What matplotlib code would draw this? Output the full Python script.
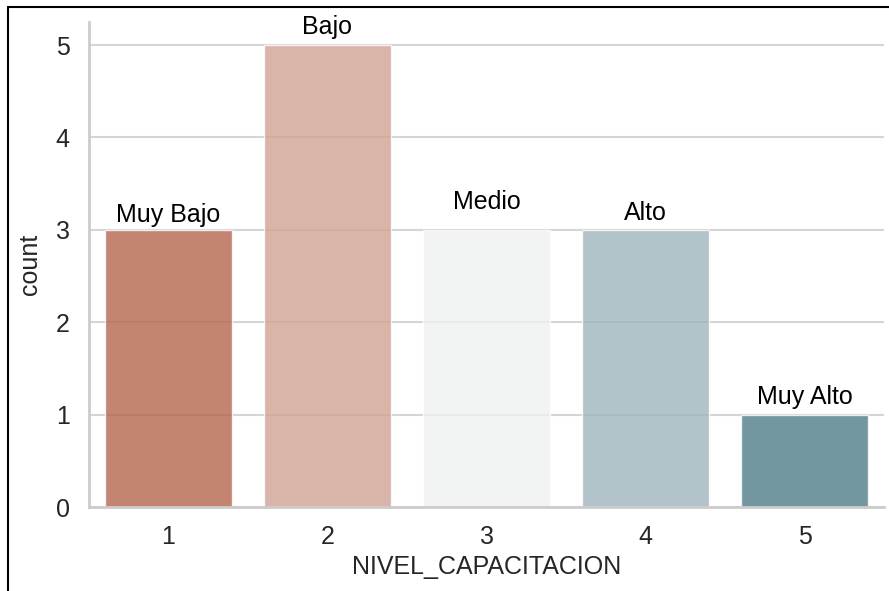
import matplotlib
matplotlib.use("Agg")
import matplotlib.pyplot as plt
import seaborn as sns
from matplotlib.lines import Line2D

# data
niveles = ["1", "2", "3", "4", "5"]
counts = [3, 5, 3, 3, 1]
etiquetas = ["Muy Bajo", "Bajo", "Medio", "Alto", "Muy Alto"]
# where each label sits above its bar (in count units)
label_offsets = [0.16, 0.2, 0.3, 0.18, 0.19]

sns.set_theme(style="whitegrid")
plt.rcParams["font.family"] = ["Liberation Sans", "DejaVu Sans"]

colores = ["#b5664f", "#d0a292", "#eff1f1", "#9fb5bd", "#4f7d89"]

fig = plt.figure(figsize=(8.89, 5.91), dpi=100)
ax = fig.add_axes([0.1001, 0.1421, 0.8943, 0.8207])

ax.bar(range(len(niveles)), counts, width=0.8, color=colores, alpha=0.8, zorder=2)
ax.set_xlim(-0.5, 4.5)
ax.set_ylim(0, 5.25)
ax.set_xticks(range(len(niveles)))
ax.set_xticklabels(niveles)
ax.set_yticks(range(0, 6))
ax.tick_params(labelsize=18, colors="#262626", length=0)
ax.tick_params(axis="x", pad=13)
ax.tick_params(axis="y", pad=14)
ax.grid(axis="x", visible=False)
ax.grid(axis="y", color="#d5d5d5", linewidth=1.5)
ax.set_axisbelow(True)
for s in ["top", "right"]:
    ax.spines[s].set_visible(False)
for s in ["left", "bottom"]:
    ax.spines[s].set_color("#cccccc")
    ax.spines[s].set_linewidth(2)
ax.set_xlabel("NIVEL_CAPACITACION", fontsize=18, color="#262626", labelpad=4)
ax.set_ylabel("count", fontsize=18, color="#262626", labelpad=10)

# category labels above the bars
for i, (c, t) in enumerate(zip(counts, etiquetas)):
    ax.text(i, c + label_offsets[i], t, ha="center", va="center",
            fontsize=18, color="black")

# screenshot frame
fig.add_artist(Line2D([0.009, 1.0], [0.988, 0.988], color="black", lw=1.5,
                      transform=fig.transFigure))
fig.add_artist(Line2D([0.009, 0.009], [0.0, 0.988], color="black", lw=1.5,
                      transform=fig.transFigure))

fig.savefig("out.png", dpi=100)
